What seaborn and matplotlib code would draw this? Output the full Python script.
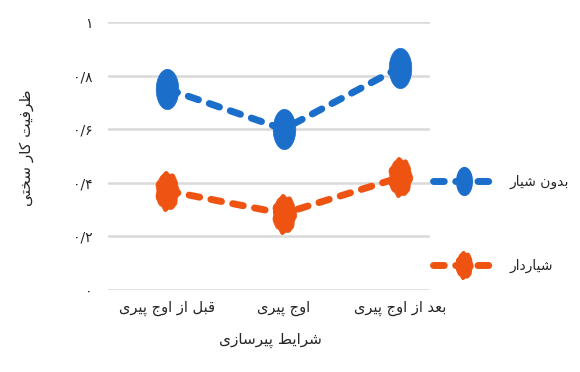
import numpy as np
import pandas as pd
import matplotlib
matplotlib.use("Agg")
import matplotlib.pyplot as plt
from matplotlib.path import Path
from matplotlib.lines import Line2D
import seaborn as sns

# ---- data -------------------------------------------------------------
conditions = ["قبل از اوج پیری", "اوج پیری", "بعد از اوج پیری"]
series_names = ["بدون شیار", "شیاردار"]
no_groove = [0.75, 0.60, 0.83]
grooved = [0.37, 0.285, 0.42]
y_ticks = [0.0, 0.2, 0.4, 0.6, 0.8, 1.0]
y_tick_labels = ["۰", "۰/۲", "۰/۴", "۰/۶", "۰/۸", "۱"]
x_title = "شرایط پیرسازی"
y_title = "ظرفیت کار سختی"

colors = ["#1B6FCB", "#EE5311"]

# ---- minimal Persian shaping (matplotlib does not join Arabic script) ----
# letter: (isolated, final, initial, medial); two-form letters join only to the right
FORMS = {
    "ا": ("\uFE8D", "\uFE8E", None, None),
    "ب": ("\uFE8F", "\uFE90", "\uFE91", "\uFE92"),
    "پ": ("\uFB56", "\uFB57", "\uFB58", "\uFB59"),
    "ت": ("\uFE95", "\uFE96", "\uFE97", "\uFE98"),
    "ج": ("\uFE9D", "\uFE9E", "\uFE9F", "\uFEA0"),
    "خ": ("\uFEA5", "\uFEA6", "\uFEA7", "\uFEA8"),
    "د": ("\uFEA9", "\uFEAA", None, None),
    "ر": ("\uFEAD", "\uFEAE", None, None),
    "ز": ("\uFEAF", "\uFEB0", None, None),
    "س": ("\uFEB1", "\uFEB2", "\uFEB3", "\uFEB4"),
    "ش": ("\uFEB5", "\uFEB6", "\uFEB7", "\uFEB8"),
    "ط": ("\uFEC1", "\uFEC2", "\uFEC3", "\uFEC4"),
    "ظ": ("\uFEC5", "\uFEC6", "\uFEC7", "\uFEC8"),
    "ع": ("\uFEC9", "\uFECA", "\uFECB", "\uFECC"),
    "ف": ("\uFED1", "\uFED2", "\uFED3", "\uFED4"),
    "ق": ("\uFED5", "\uFED6", "\uFED7", "\uFED8"),
    "ک": ("\uFB8E", "\uFB8F", "\uFB90", "\uFB91"),
    "ل": ("\uFEDD", "\uFEDE", "\uFEDF", "\uFEE0"),
    "ن": ("\uFEE5", "\uFEE6", "\uFEE7", "\uFEE8"),
    "و": ("\uFEED", "\uFEEE", None, None),
    "ی": ("\uFBFC", "\uFBFD", "\uFBFE", "\uFBFF"),
}


def shape(text):
    out = []
    n = len(text)
    for i, ch in enumerate(text):
        if ch not in FORMS:
            out.append(ch)
            continue
        iso, fin, ini, med = FORMS[ch]
        prev = text[i - 1] if i > 0 else None
        nxt = text[i + 1] if i < n - 1 else None
        join_prev = prev in FORMS and FORMS[prev][2] is not None
        join_next = ini is not None and nxt in FORMS
        if join_prev and join_next:
            out.append(med)
        elif join_prev:
            out.append(fin)
        elif join_next:
            out.append(ini)
        else:
            out.append(iso)
    return "".join(reversed(out))


# ---- long-form table for seaborn ----------------------------------------
df = pd.DataFrame({
    "condition": conditions * 2,
    "series": [series_names[0]] * 3 + [series_names[1]] * 3,
    "value": no_groove + grooved,
})
df["x"] = df["condition"].map({c: i for i, c in enumerate(conditions)})

# tall elliptical marker, and a bumpy one for the second series
t = np.linspace(0, 2 * np.pi, 120)
ellipse = Path(np.column_stack([0.56 * np.cos(t), np.sin(t)]), closed=True)
r = 1 + 0.045 * np.cos(7 * t) + 0.03 * np.cos(11 * t + 0.7)
ragged = Path(np.column_stack([0.6 * r * np.cos(t), r * np.sin(t)]), closed=True)

sns.set_theme(style="white")
plt.rcParams["font.family"] = ["DejaVu Sans"]

fig = plt.figure(figsize=(5.8, 3.72), dpi=100)
ax = fig.add_axes([108 / 580, 1 - 290 / 372, 322 / 580, 268 / 372])

LW = 5.0
DASH = [1.55, 1.65]

sns.lineplot(
    data=df, x="x", y="value", hue="series", hue_order=series_names,
    palette=colors, ax=ax, legend=False, linewidth=LW, sort=False,
)
markers = [ellipse, ragged]
for line, mk, col in zip(ax.get_lines(), markers, colors):
    line.set_dashes(DASH)
    line.set_dash_capstyle("round")
    line.set_marker(mk)
    line.set_markersize(29)
    line.set_markerfacecolor(col)
    line.set_markeredgecolor(col)
    line.set_markeredgewidth(0.5)

ax.set_xlim(-0.51, 2.26)
ax.set_ylim(0, 1)
ax.set_yticks(y_ticks)
ax.set_yticklabels(y_tick_labels, fontsize=10)
ax.set_xticks(range(len(conditions)))
ax.set_xticklabels([shape(c) for c in conditions], fontsize=10.5)
ax.tick_params(axis="y", length=0, pad=11)
ax.tick_params(axis="x", length=0, pad=8)
ax.grid(axis="y", color="#D9D9D9", linewidth=1.8)
ax.grid(axis="x", visible=False)
for s in ax.spines.values():
    s.set_visible(False)
ax.set_axisbelow(True)
ax.set_xlabel("")
ax.set_ylabel("")

fig.text(270 / 580, 1 - 340 / 372, shape(x_title), ha="center", va="center", fontsize=11)
fig.text(27 / 580, 1 - 148 / 372, shape(y_title), ha="center", va="center",
         rotation=90, fontsize=11)

# legend: dash - marker - dash, label on the right
handles = [
    Line2D([0], [0], color=c, linewidth=LW, dashes=DASH, dash_capstyle="round",
           marker=mk, markersize=20, markerfacecolor=c, markeredgecolor=c)
    for c, mk in zip(colors, markers)
]
fig.legend(
    handles, [shape(s) for s in series_names],
    loc="center left", bbox_to_anchor=(426 / 580, 1 - 224 / 372),
    frameon=False, fontsize=10, handlelength=4.4, handletextpad=1.1,
    labelspacing=5.05, borderpad=0,
)

fig.savefig("out.png", dpi=100, facecolor="white")
